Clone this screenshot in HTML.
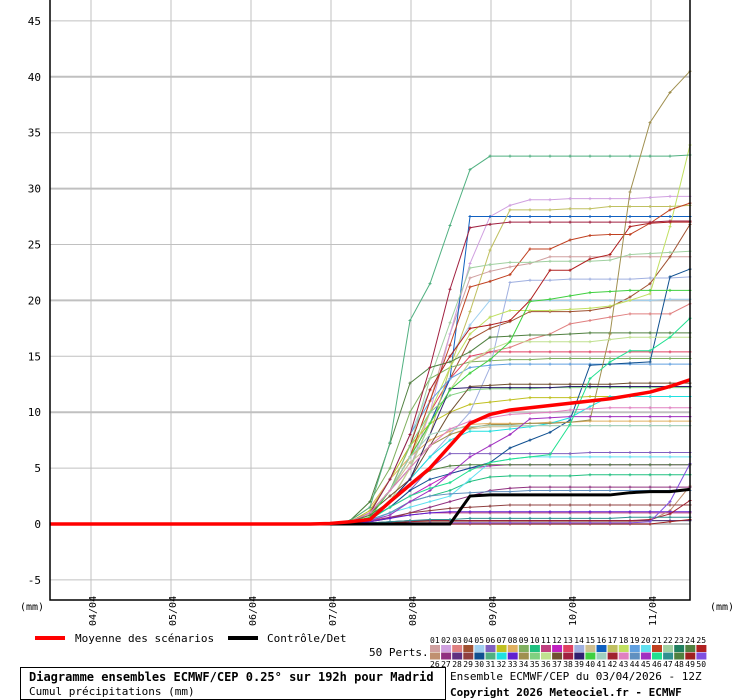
<!DOCTYPE html>
<html><head><meta charset="utf-8"><style>
html,body{margin:0;padding:0;background:#fff;}
svg{display:block;}
text{font-family:"DejaVu Sans Mono","Liberation Mono",monospace;}
</style></head><body>
<svg id="chart" width="740" height="700" viewBox="0 0 740 700" xmlns="http://www.w3.org/2000/svg">
<g id="grid"></g>
<g id="ylabels"></g>
<g id="xlabels"></g>
<g id="members"></g>
<g id="main"></g>
<rect x="50" y="-2" width="640" height="602" fill="none" stroke="#000" stroke-width="1.5"/>
<text x="20" y="610" font-size="10">(mm)</text>
<text x="710" y="610" font-size="10">(mm)</text>
<g>
<rect x="35" y="636" width="30" height="4" fill="#ff0000"/>
<text x="75" y="642" font-size="11">Moyenne des scénarios</text>
<rect x="228" y="636" width="30" height="4" fill="#000"/>
<text x="267" y="642" font-size="11">Contrôle/Det</text>
<text x="369" y="656" font-size="11">50 Perts.</text>
<g id="swatches"></g>
</g>
<rect x="20.5" y="667.5" width="425" height="32" fill="none" stroke="#000"/>
<text x="29" y="681" font-size="12" font-weight="bold">Diagramme ensembles ECMWF/CEP 0.25° sur 192h pour Madrid</text>
<text x="29" y="695" font-size="11">Cumul précipitations (mm)</text>
<text x="450" y="680" font-size="11">Ensemble ECMWF/CEP du 03/04/2026 - 12Z</text>
<text x="450" y="696" font-size="11" font-weight="bold">Copyright 2026 Meteociel.fr - ECMWF</text>
</svg>
<script>
const yTicks=[-5,0,5,10,15,20,25,30,35,40,45];
const dateLabels=["04/04","05/04","06/04","07/04","08/04","09/04","10/04","11/04"];
const dateSteps=[2,6,10,14,18,22,26,30];
// values start at step 14 (07/04 00Z); steps 0-13 are 0
const firstStep=14;
const meanVals=[0.05,0.2,0.4,2,3.5,5,7,9,9.8,10.2,10.4,10.6,10.8,11,11.2,11.5,11.8,12.3,12.9];
const controlVals=[0,0,0,0,0,0,0,2.5,2.6,2.6,2.6,2.6,2.6,2.6,2.6,2.8,2.9,2.9,3.1];
const memberColors=["#d0a0a0","#d0a0e0","#e08080","#a05030","#a0d0f0","#8060c0","#c0c020","#e0b060","#80b060","#20c080","#c04080","#c020c0","#e04060","#a0b0e0","#d0c090","#1060c0","#c0c060","#c0e060","#60a0e0","#60e0f0","#c04020","#a0d0a0","#208060","#508040","#b02020","#c09070","#903080","#603080","#904040","#105090","#50b080","#20e0e0","#6020d0","#a09050","#80d080","#c0e090","#705030","#a02040","#302070","#40d040","#a0d0c0","#a02030","#e080c0","#6090c0","#a030c0","#20e090","#309090","#508040","#a02020","#8050e0"];
const m01=[0,0.2,1,3,6,11,17,22,22.6,23,23.3,23.9,23.9,23.9,23.9,23.9,23.9,23.9,23.9];
const m02=[0,0.1,0.5,2,5,10,17,23.3,27.5,28.5,29,29,29.1,29.1,29.1,29.1,29.2,29.3,29.3];
const m03=[0,0.2,1,3,6,9,12,14.5,15.4,15.8,16.5,17,17.9,18.2,18.5,18.8,18.8,18.8,19.7];
const m04=[0,0.1,0.6,2,5,9,13,16.5,17.5,18.1,19,19,19,19.1,19.4,20.3,21.5,23.9,26.8];
const m05=[0,0.2,1,4,8,12,15,17.8,20,20,20,20,20,20,20,20,20,20.1,20.1];
const m06=[0,0.1,0.5,1.5,3,5,6.3,6.3,6.3,6.3,6.3,6.3,6.3,6.4,6.4,6.4,6.4,6.4,6.4];
const m07=[0,0.2,1.2,4,7,9,10,10.7,10.9,11.1,11.3,11.3,11.3,11.4,11.4,11.4,11.4,11.4,11.4];
const m08=[0,0.3,1.5,4,6,7.5,8.3,8.9,9,9,9,9.1,9.1,9.2,9.2,9.2,9.2,9.2,9.2];
const m09=[0,0.3,2,5,10,13,14,14.5,14.6,14.7,14.7,14.8,14.8,14.8,14.8,14.8,14.8,14.8,14.8];
const m10=[0,0.1,0.3,1,2,2.5,3,3.8,4.2,4.3,4.3,4.3,4.3,4.4,4.4,4.4,4.4,4.4,4.4];
const m11=[0,0.1,0.3,0.6,0.8,1,1,1,1,1,1,1,1,1,1,1,1,1,1];
const m12=[0,0.1,0.5,1.5,2.5,3.5,4.5,5,5.2,5.3,5.3,5.3,5.3,5.3,5.3,5.3,5.3,5.3,5.3];
const m13=[0,0.2,1,3,6,10,13,15,15.4,15.4,15.4,15.4,15.4,15.4,15.4,15.4,15.4,15.4,15.4];
const m14=[0,0.1,0.5,2,4,6,8,10,14,21.6,21.8,21.8,21.9,21.9,21.9,21.9,22,22,22.1];
const m15=[0,0.2,1,3,5.5,7,8,8.5,8.7,8.7,8.8,8.8,8.8,8.8,8.8,8.8,8.8,8.8,8.8];
const m16=[0,0.2,1,3,5,9,13,27.5,27.5,27.5,27.5,27.5,27.5,27.5,27.5,27.5,27.5,27.5,27.5];
const m17=[0,0.1,0.4,2,4,8,14,19,24.5,28.1,28.1,28.1,28.2,28.2,28.4,28.4,28.4,28.4,28.5];
const m18=[0,0.1,0.8,3,6,10,14,17,18.5,19.1,19.1,19.1,19.2,19.3,19.5,20,20.6,26.6,33.9];
const m19=[0,0.2,1,4,8,11,13,14,14.2,14.3,14.3,14.3,14.3,14.3,14.3,14.3,14.3,14.3,14.3];
const m20=[0,0.1,0.3,1,1.5,2,2.5,4,5.5,5.8,6,6,6,6,6,6,6,6,6];
const m21=[0,0.2,1,3,6,11,16,21.2,21.7,22.3,24.6,24.6,25.4,25.8,25.9,25.9,26.9,28.1,28.7];
const m22=[0,0.2,1,3,7,13,18,22.9,23.2,23.4,23.4,23.5,23.5,23.5,23.6,24.1,24.2,24.3,24.4];
const m23=[0,0,0.1,0.2,0.3,0.3,0.3,0.3,0.3,0.3,0.3,0.3,0.3,0.3,0.3,0.3,0.3,0.3,0.3];
const m24=[0,0.3,2,7.2,12.6,14,14.5,15.4,16.7,16.8,16.9,16.9,17,17.1,17.1,17.1,17.1,17.1,17.1];
const m25=[0,0.2,0.8,3,7,12,15,17.5,17.8,18.2,20,22.7,22.7,23.7,24.1,26.6,26.9,27,27];
const m26=[0,0,0.05,0.1,0.2,0.2,0.2,0.2,0.2,0.2,0.2,0.2,0.2,0.2,0.2,0.2,0.3,1.2,3.4];
const m27=[0,0.05,0.2,0.6,1,1.5,2,2.5,3,3.2,3.3,3.3,3.3,3.3,3.3,3.3,3.3,3.3,3.3];
const m28=[0,0,0.1,0.2,0.3,0.3,0.3,0.3,0.3,0.3,0.3,0.3,0.3,0.3,0.3,0.3,0.3,0.3,0.3];
const m29=[0,0.05,0.2,0.5,1,1.2,1.4,1.5,1.6,1.7,1.7,1.7,1.7,1.7,1.7,1.7,1.7,1.7,1.7];
const m30=[0,0.1,0.5,1.5,3,4,4.5,5,5.5,6.8,7.5,8.2,9.3,14.2,14.3,14.4,14.5,22.1,22.8];
const m31=[0,0.3,1.5,7.3,18.2,21.5,26.7,31.7,32.9,32.9,32.9,32.9,32.9,32.9,32.9,32.9,32.9,32.9,33];
const m32=[0,0.1,0.5,2,4,6,7.5,8.3,8.3,8.5,8.7,9,9.5,10.5,11.4,11.4,11.4,11.4,11.4];
const m33=[0,0.05,0.2,0.5,0.8,1,1.1,1.1,1.1,1.1,1.1,1.1,1.1,1.1,1.1,1.1,1.1,1.1,1.1];
const m34=[0,0.2,1,3,5,7,8,8.6,8.9,8.9,9,9,9.1,9.3,17,29.7,35.9,38.6,40.5];
const m35=[0,0.1,0.8,3,7,10,11.5,12,12.1,12.1,12.1,12.2,12.2,12.2,12.2,12.2,12.2,12.2,12.2];
const m36=[0,0.1,0.6,2,5,9,12,14.5,15.6,16.3,16.3,16.3,16.3,16.3,16.5,16.7,16.7,16.7,16.7];
const m37=[0,0.2,1,2.5,4,7,10,12.3,12.4,12.5,12.5,12.5,12.5,12.5,12.5,12.6,12.6,12.6,12.6];
const m38=[0,0.2,1,4,8,14,21,26.5,26.8,27,27,27,27,27,27,27,27,27.1,27.1];
const m39=[0,0.1,0.6,2,4,8,12.1,12.2,12.2,12.2,12.2,12.2,12.3,12.3,12.3,12.3,12.3,12.3,12.3];
const m40=[0,0.1,0.6,3,6,9,12,13.5,14.7,16.3,19.9,20.1,20.4,20.7,20.8,20.9,20.9,20.9,20.9];
const m41=[0,0.2,1,3,6,8,8.5,8.7,8.8,8.8,8.8,8.8,8.8,8.8,8.8,8.8,8.8,8.8,8.8];
const m42=[0,0,0,0.1,0.2,0.3,0.3,0.3,0.3,0.3,0.3,0.3,0.3,0.3,0.3,0.3,0.4,0.9,2.1];
const m43=[0,0.2,1,3,5,7,8.5,9.2,9.5,9.8,9.9,10,10.2,10.3,10.4,10.4,10.4,10.4,10.4];
const m44=[0,0.1,0.4,1,2,2.5,2.7,2.8,2.9,2.9,3,3,3,3,3,3,3,3,3];
const m45=[0,0.1,0.3,0.8,2,3,4.5,6,7,8,9.4,9.5,9.6,9.6,9.6,9.6,9.6,9.6,9.6];
const m46=[0,0.1,0.4,1.5,2.5,3.2,3.7,4.8,5.5,5.8,6,6.2,8.9,13,14.5,15.5,15.5,16.7,18.4];
const m47=[0,0,0.1,0.2,0.3,0.4,0.4,0.5,0.5,0.5,0.5,0.5,0.5,0.5,0.5,0.6,0.6,0.6,0.6];
const m48=[0,0.2,0.8,2,3.5,4.8,5.2,5.3,5.3,5.3,5.3,5.3,5.3,5.3,5.3,5.3,5.3,5.3,5.3];
const m49=[0,0,0,0,0,0,0,0,0,0,0,0,0,0,0,0,0,0.2,0.4];
const m50=[0,0,0,0.05,0.1,0.1,0.1,0.1,0.1,0.1,0.1,0.1,0.1,0.1,0.1,0.1,0.2,2,5.4];
const members=[m01,m02,m03,m04,m05,m06,m07,m08,m09,m10,m11,m12,m13,m14,m15,m16,m17,m18,m19,m20,m21,m22,m23,m24,m25,m26,m27,m28,m29,m30,m31,m32,m33,m34,m35,m36,m37,m38,m39,m40,m41,m42,m43,m44,m45,m46,m47,m48,m49,m50];

const NS="http://www.w3.org/2000/svg";
const X0=50,DX=20,Y0=524,PXU=11.18;
function xs(step){return X0+step*DX;}
function ys(v){return Y0-v*PXU;}
function mk(tag,attrs,parent){const e=document.createElementNS(NS,tag);for(const k in attrs)e.setAttribute(k,attrs[k]);parent.appendChild(e);return e;}
function pts(vals){let p=[[xs(0),ys(0)],[xs(firstStep-1),ys(0)]];vals.forEach((v,i)=>p.push([xs(firstStep+i),ys(v)]));return p;}

const grid=document.getElementById('grid');
yTicks.forEach(v=>{
  const l=mk('line',{x1:50,x2:690,y1:ys(v),y2:ys(v),stroke:'#c0c0c0','stroke-width':(v%10===0)?2:1},grid);
  
  
  const t=mk('text',{x:41,y:ys(v)+4,'text-anchor':'end','font-size':11},document.getElementById('ylabels'));
  t.textContent=v;
  
  
});
dateSteps.forEach((s,i)=>{
  const l=mk('line',{x1:xs(s)+1,x2:xs(s)+1,y1:0,y2:603,stroke:'#c0c0c0','stroke-width':1},grid);
  
  
  const x=xs(s)+6;
  const t=mk('text',{x:x,y:626,'font-size':10,transform:'rotate(-90 '+x+' 626)'},document.getElementById('xlabels'));
  t.textContent=dateLabels[i];
  
  
});
const mg=document.getElementById('members');
members.forEach((vals,k)=>{
  const p=pts(vals);
  const pl=mk('polyline',{points:p.map(q=>q.join(',')).join(' '),fill:'none',stroke:memberColors[k],'stroke-width':1},mg);
  
  
  vals.forEach((v,i)=>{
    const x=xs(firstStep+i),y=ys(v);
    const c=mk('path',{d:'M'+(x-1.5)+' '+y+'h3M'+x+' '+(y-1.5)+'v3',stroke:memberColors[k],'stroke-width':1},mg);
    
    
  });
});
const main=document.getElementById('main');
const cl=mk('polyline',{points:pts(controlVals).map(q=>q.join(',')).join(' '),fill:'none',stroke:'#000','stroke-width':3},main);


const ml=mk('polyline',{points:pts(meanVals).map(q=>q.join(',')).join(' '),fill:'none',stroke:'#ff0000','stroke-width':3.5,'stroke-linejoin':'round'},main);



const sw=document.getElementById('swatches');
memberColors.forEach((c,k)=>{
  const col=k%25,row=Math.floor(k/25);
  const x=430+col*11.1;
  const r=mk('rect',{x:x,y:645+row*7.5,width:10,height:7,fill:c},sw);
  
  
  const t=mk('text',{x:x,y:row?667:643,'font-size':8},sw);
  t.textContent=String(k+1).padStart(2,'0');
  
  
});
</script>
</body></html>
